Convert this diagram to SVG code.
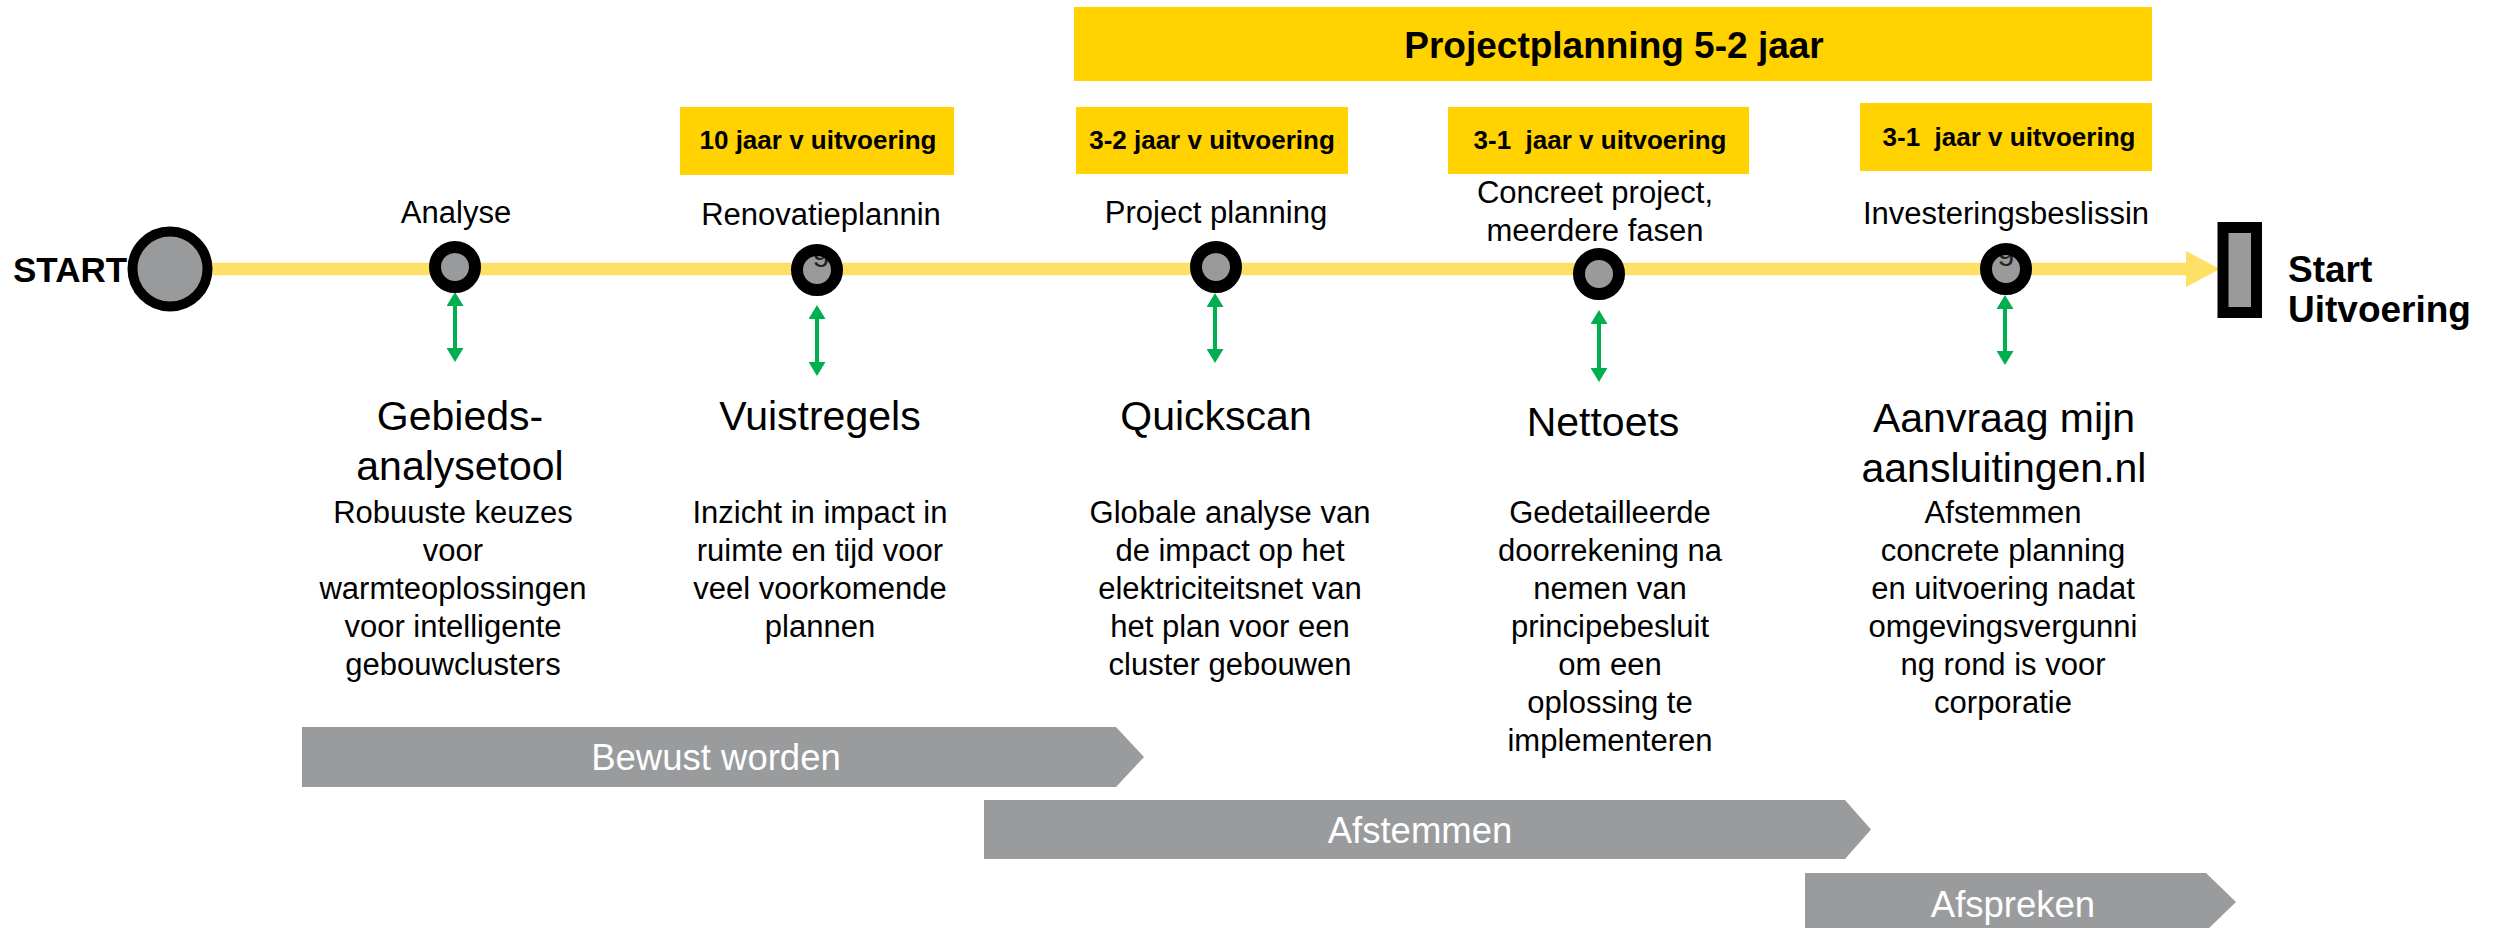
<svg xmlns="http://www.w3.org/2000/svg" width="2501" height="928" viewBox="0 0 2501 928">
<style>
text{font-family:"Liberation Sans",Arial,sans-serif;fill:#000}
.lbl{font-size:31px;text-anchor:middle}
.hd{font-size:41px;text-anchor:middle}
.ds{font-size:31px;text-anchor:middle}
.bx{font-size:26px;font-weight:bold;text-anchor:middle;white-space:pre}
.ybox{fill:#FFD200}
.ms{fill:#999A9B;stroke:#000;stroke-width:12}
.bar{fill:#9A9B9D}
.bt{font-size:36.5px;fill:#FFFFFF;text-anchor:middle}
.grn{stroke:#00B050;stroke-width:4;fill:none;marker-start:url(#ga);marker-end:url(#ga)}
</style>
<defs>
<marker id="ga" viewBox="0 0 14 17" markerWidth="14" markerHeight="17" markerUnits="userSpaceOnUse" refX="2" refY="8.5" orient="auto-start-reverse">
<path d="M0,0 L14,8.5 L0,17 z" fill="#00B050"/>
</marker>
<clipPath id="clipRen"><circle cx="817" cy="270" r="20"/></clipPath>
<clipPath id="clipInv"><circle cx="2006" cy="269" r="20"/></clipPath>
</defs>
<rect width="2501" height="928" fill="#FFFFFF"/>

<g id="connectors">
<line x1="170" y1="269" x2="2190" y2="269" stroke="#FFE066" stroke-width="12.5"/>
<polygon points="2186,251 2220,269 2186,287" fill="#FFE066"/>
<line class="grn" x1="455" y1="304" x2="455" y2="350"/>
<line class="grn" x1="817" y1="317" x2="817" y2="364"/>
<line class="grn" x1="1215" y1="305" x2="1215" y2="351"/>
<line class="grn" x1="1599" y1="322" x2="1599" y2="370"/>
<line class="grn" x1="2005" y1="307" x2="2005" y2="353"/>
</g>

<g id="banner">
<rect class="ybox" x="1074" y="7" width="1078" height="74"/>
<text x="1614" y="58" style="font-size:37px;font-weight:bold;text-anchor:middle">Projectplanning 5-2 jaar</text>
</g>

<g id="start">
<text x="13" y="282" style="font-size:35px;font-weight:bold">START</text>
<circle cx="170" cy="269" r="37.5" fill="#999A9B" stroke="#000" stroke-width="10"/>
</g>

<g id="node-analyse">
<text class="lbl" x="456" y="223">Analyse</text>
<circle class="ms" cx="455" cy="267" r="20"/>
<text class="hd" x="460" y="430">Gebieds-</text>
<text class="hd" x="460" y="480">analysetool</text>
<text class="ds" x="453" y="523">Robuuste keuzes</text>
<text class="ds" x="453" y="561">voor</text>
<text class="ds" x="453" y="599">warmteoplossingen</text>
<text class="ds" x="453" y="637">voor intelligente</text>
<text class="ds" x="453" y="675">gebouwclusters</text>
</g>

<g id="node-renovatie">
<rect class="ybox" x="680" y="107" width="274" height="68"/>
<text class="bx" x="818" y="149">10 jaar v uitvoering</text>
<text class="lbl" x="821" y="225">Renovatieplannin</text>
<circle cx="817" cy="270" r="20" fill="#999A9B"/>
<text x="821" y="260" clip-path="url(#clipRen)" style="font-size:31px;text-anchor:middle;fill:#222">g</text>
<circle cx="817" cy="270" r="20" fill="none" stroke="#000" stroke-width="12"/>
<text class="hd" x="820" y="430">Vuistregels</text>
<text class="ds" x="820" y="523">Inzicht in impact in</text>
<text class="ds" x="820" y="561">ruimte en tijd voor</text>
<text class="ds" x="820" y="599">veel voorkomende</text>
<text class="ds" x="820" y="637">plannen</text>
</g>

<g id="node-project">
<rect class="ybox" x="1076" y="107" width="272" height="67"/>
<text class="bx" x="1212" y="149">3-2 jaar v uitvoering</text>
<text class="lbl" x="1216" y="223">Project planning</text>
<circle class="ms" cx="1216" cy="267" r="20"/>
<text class="hd" x="1216" y="430">Quickscan</text>
<text class="ds" x="1230" y="523">Globale analyse van</text>
<text class="ds" x="1230" y="561">de impact op het</text>
<text class="ds" x="1230" y="599">elektriciteitsnet van</text>
<text class="ds" x="1230" y="637">het plan voor een</text>
<text class="ds" x="1230" y="675">cluster gebouwen</text>
</g>

<g id="node-concreet">
<rect class="ybox" x="1448" y="107" width="301" height="67"/>
<text class="bx" x="1600" y="149">3-1  jaar v uitvoering</text>
<text class="lbl" x="1595" y="203">Concreet project,</text>
<text class="lbl" x="1595" y="241">meerdere fasen</text>
<circle class="ms" cx="1599" cy="274" r="20"/>
<text class="hd" x="1603" y="436">Nettoets</text>
<text class="ds" x="1610" y="523">Gedetailleerde</text>
<text class="ds" x="1610" y="561">doorrekening na</text>
<text class="ds" x="1610" y="599">nemen van</text>
<text class="ds" x="1610" y="637">principebesluit</text>
<text class="ds" x="1610" y="675">om een</text>
<text class="ds" x="1610" y="713">oplossing te</text>
<text class="ds" x="1610" y="751">implementeren</text>
</g>

<g id="node-investering">
<rect class="ybox" x="1860" y="103" width="292" height="68"/>
<text class="bx" x="2009" y="146">3-1  jaar v uitvoering</text>
<text class="lbl" x="2006" y="224">Investeringsbeslissin</text>
<circle cx="2006" cy="269" r="20" fill="#999A9B"/>
<text x="2006" y="259" clip-path="url(#clipInv)" style="font-size:31px;text-anchor:middle;fill:#222">g</text>
<circle cx="2006" cy="269" r="20" fill="none" stroke="#000" stroke-width="12"/>
<text class="hd" x="2004" y="432">Aanvraag mijn</text>
<text class="hd" x="2004" y="482">aansluitingen.nl</text>
<text class="ds" x="2003" y="523">Afstemmen</text>
<text class="ds" x="2003" y="561">concrete planning</text>
<text class="ds" x="2003" y="599">en uitvoering nadat</text>
<text class="ds" x="2003" y="637">omgevingsvergunni</text>
<text class="ds" x="2003" y="675">ng rond is voor</text>
<text class="ds" x="2003" y="713">corporatie</text>
</g>

<g id="end">
<rect x="2223" y="227.5" width="33.5" height="85" fill="#999A9B" stroke="#000" stroke-width="11"/>
<text x="2288" y="282" style="font-size:37px;font-weight:bold">Start</text>
<text x="2288" y="322" style="font-size:37px;font-weight:bold">Uitvoering</text>
</g>

<g id="phase-bewust">
<polygon class="bar" points="302,727 1116,727 1144,757 1116,787 302,787"/>
<text class="bt" x="716" y="770">Bewust worden</text>
</g>
<g id="phase-afstemmen">
<polygon class="bar" points="984,800 1845,800 1871,829.5 1845,859 984,859"/>
<text class="bt" x="1420" y="843">Afstemmen</text>
</g>
<g id="phase-afspreken">
<polygon class="bar" points="1805,873 2206,873 2236,902 2206,931 1805,931"/>
<text class="bt" x="2013" y="917">Afspreken</text>
</g>
</svg>
